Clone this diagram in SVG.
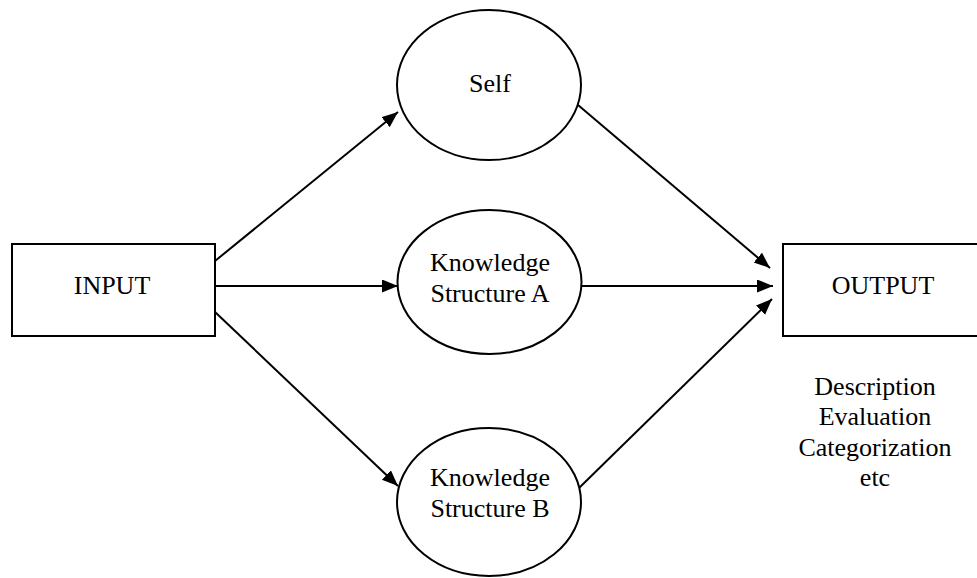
<svg xmlns="http://www.w3.org/2000/svg" width="977" height="578" viewBox="0 0 977 578">
  <style>
    .box { fill: #ffffff; stroke: #000000; stroke-width: 2; }
    .lbl { font-family: "Liberation Serif", "Times New Roman", serif; font-size: 26px; fill: #000000; text-anchor: middle; }
    .edge { stroke: #000000; stroke-width: 2; fill: none; marker-end: url(#arrow); }
  </style>
  <defs>
    <marker id="arrow" markerUnits="userSpaceOnUse" markerWidth="17" markerHeight="14" refX="16" refY="6.5" orient="auto">
      <path d="M0,0 L16,6.5 L0,13 z" fill="#000000"/>
    </marker>
  </defs>
  <rect width="977" height="578" fill="#ffffff"/>

  <g id="connectors">
    <line class="edge" x1="215" y1="261" x2="398" y2="112"/>
    <line class="edge" x1="215" y1="286" x2="398" y2="286"/>
    <line class="edge" x1="215" y1="312" x2="398" y2="486"/>
    <line class="edge" x1="578" y1="105" x2="770" y2="268"/>
    <line class="edge" x1="581" y1="286" x2="773" y2="286"/>
    <line class="edge" x1="579" y1="488" x2="772" y2="299"/>
  </g>

  <g id="input">
    <rect class="box" x="12" y="244" width="203" height="92"/>
    <text class="lbl" x="112" y="294">INPUT</text>
  </g>

  <g id="self">
    <ellipse class="box" cx="489" cy="85" rx="92" ry="75"/>
    <text class="lbl" x="490" y="92">Self</text>
  </g>

  <g id="knowledge-a">
    <ellipse class="box" cx="489.5" cy="282" rx="92" ry="72"/>
    <text class="lbl" x="490" y="271">Knowledge</text>
    <text class="lbl" x="490" y="302">Structure A</text>
  </g>

  <g id="knowledge-b">
    <ellipse class="box" cx="489" cy="502" rx="92" ry="74"/>
    <text class="lbl" x="490" y="486">Knowledge</text>
    <text class="lbl" x="490" y="517">Structure B</text>
  </g>

  <g id="output">
    <rect class="box" x="783" y="244" width="200" height="92"/>
    <text class="lbl" x="883" y="294">OUTPUT</text>
  </g>

  <g id="output-kinds">
    <text class="lbl" x="875" y="395">Description</text>
    <text class="lbl" x="875" y="425">Evaluation</text>
    <text class="lbl" x="875" y="456">Categorization</text>
    <text class="lbl" x="875" y="486">etc</text>
  </g>
</svg>
